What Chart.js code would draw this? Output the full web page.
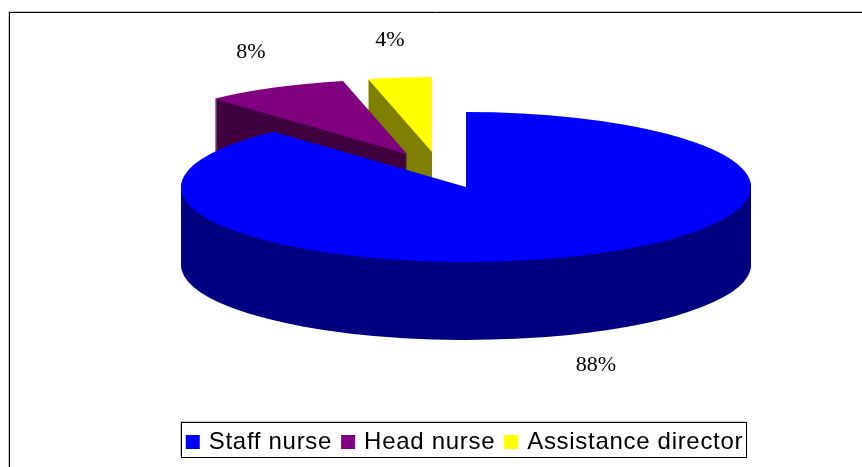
<!DOCTYPE html>
<html>
<head>
<meta charset="utf-8">
<style>
    html, body { margin: 0; padding: 0; background: #fff; overflow: hidden; }
    canvas { display: block; }
</style>
<script src="https://cdn.jsdelivr.net/npm/chart.js@4/dist/chart.umd.js"></script>
</head>
<body>
<canvas id="staff_chart" width="862" height="467"></canvas>
<script>
// Chart data, the slice angles are a little off the printed labels
const categories = ["Staff nurse", "Head nurse", "Assistance director"];
const percentValues = [88.2, 8.2, 3.6];
const topColors = ["#0000ff", "#800080", "#ffff00"];
const sideColors = ["#000080", "#400040", "#808000"];

// Look of the fake 3D pie
const pieCenter = { x: 466, y: 187 };
const pieRadius = 285;
const squash = 75 / 285;
const pieDepth = 78;
const explode = [{ x: 0, y: 0 }, { x: -59, y: -33 }, { x: -34, y: -35 }];
const labelSpots = [{ x: 596, y: 365 }, { x: 251, y: 52 }, { x: 390, y: 40 }];
const legendSpacing = "0.7px";

/**
 * Draws one arc element with another fill colour, leaving the element as it is.
 */
function draw_arc(arc, ctx, color) {
    const copy = Object.create(arc);
    copy.options = Object.create(arc.options, { backgroundColor: { value: color } });
    arc.draw.call(copy, ctx);
}

/**
 * Draws a black line with a faint grey line next to it, up and to the left.
 */
function draw_frame_line(ctx, points) {
    [["#c8c8c8", -1], ["#000", 0]].forEach(function (pen) {
        ctx.strokeStyle = pen[0];
        ctx.beginPath();
        points.forEach(function (p, i) {
            if (i === 0) {
                ctx.moveTo(p[0] + pen[1], p[1] + pen[1]);
            } else {
                ctx.lineTo(p[0] + pen[1], p[1] + pen[1]);
            }
        });
        ctx.stroke();
    });
}

// Replaces the normal flat pie with a squashed pie that has a side wall
const pie3d = {
    id: "pie3d",
    beforeLayout(chart) {
        // the legend text in the picture is widely spaced
        chart.ctx.letterSpacing = legendSpacing;
    },
    beforeDatasetsDraw(chart) {
        const ctx = chart.ctx;
        const arcs = chart.getDatasetMeta(0).data;

        // back slices first, the big blue one goes on top
        for (let i = arcs.length - 1; i >= 0; i--) {
            const arc = arcs[i];
            for (let d = pieDepth; d >= 0; d--) {
                ctx.save();
                ctx.translate(pieCenter.x + explode[i].x, pieCenter.y + explode[i].y + d);
                ctx.scale(1, squash);
                ctx.translate(-arc.x, -arc.y);
                draw_arc(arc, ctx, d === 0 ? topColors[i] : sideColors[i]);
                ctx.restore();
            }
        }
        return false;
    },
    afterDraw(chart) {
        const ctx = chart.ctx;

        // percent labels
        ctx.save();
        ctx.letterSpacing = "0px";
        ctx.fillStyle = "#000";
        ctx.font = "22px 'Liberation Serif'";
        ctx.textAlign = "center";
        ctx.textBaseline = "middle";
        percentValues.forEach(function (value, i) {
            ctx.fillText(Math.round(value) + "%", labelSpots[i].x, labelSpots[i].y);
        });

        // frame of the chart, it runs off the right and bottom of the picture
        ctx.lineWidth = 1;
        draw_frame_line(ctx, [[9.5, 468], [9.5, 12.5], [863, 12.5]]);

        // box round the legend
        const boxes = chart.legend.legendHitBoxes;
        const last = boxes[boxes.length - 1];
        const left = Math.round(boxes[0].left) - 7.5;
        const right = Math.round(last.left + last.width) + 3.5;
        const top = Math.round(boxes[0].top + boxes[0].height / 2) - 19.5;
        const bottom = top + 35;
        draw_frame_line(ctx, [[left, bottom], [left, top], [right, top]]);
        ctx.strokeStyle = "#000";
        ctx.strokeRect(left, top, right - left, bottom - top);
        ctx.restore();
    }
};

new Chart("staff_chart", {
    type: "pie",
    data: {
        labels: categories,
        datasets: [{
            data: percentValues,
            backgroundColor: topColors,
            borderWidth: 0
        }]
    },
    options: {
        responsive: false,
        animation: false,
        radius: pieRadius,
        layout: { padding: { left: 70, bottom: 3 } },
        plugins: {
            tooltip: { enabled: false },
            legend: {
                position: "bottom",
                labels: {
                    boxWidth: 8,
                    boxHeight: 8,
                    padding: 12,
                    color: "#000",
                    font: { family: "'Liberation Sans'", size: 24 },
                    // a thick outline makes the swatch 14px while the text sits close to it
                    generateLabels(chart) {
                        return Chart.overrides.pie.plugins.legend.labels.generateLabels(chart).map(function (item, i) {
                            item.lineWidth = 6;
                            item.strokeStyle = topColors[i];
                            return item;
                        });
                    }
                }
            }
        }
    },
    plugins: [pie3d]
});
</script>
</body>
</html>
